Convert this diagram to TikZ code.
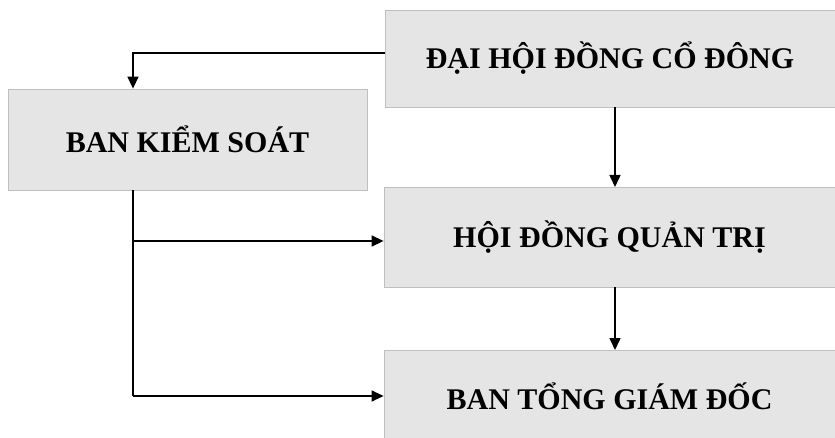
\documentclass[tikz,border=0pt]{standalone}
\usepackage{fontspec}
\setmainfont{Liberation Serif}
\usetikzlibrary{arrows.meta}
\begin{document}
\begin{tikzpicture}[x=1pt,y=-1pt,
  box/.style={draw=black!25,fill=black!10,line width=0.8pt,inner sep=0pt,
    font=\fontsize{30}{33}\selectfont\bfseries},
  conn/.style={line width=1.5pt,-{Triangle[length=12pt,width=11pt]}},
  line/.style={line width=1.5pt}]
\useasboundingbox (0,0) rectangle (835,438);
\node[box,minimum width=450,minimum height=97] (dh) at (610,58.5) {ĐẠI HỘI ĐỒNG CỔ ĐÔNG};
\node[box,minimum width=359,minimum height=101] (bks) at (187.5,139.5) {BAN KIỂM SOÁT};
\node[box,minimum width=451,minimum height=100] (hd) at (609.5,237.5) {HỘI ĐỒNG QUẢN TRỊ};
\node[box,minimum width=451,minimum height=92] (bt) at (609.5,396) {BAN TỔNG GIÁM ĐỐC};
\coordinate (c1) at (133,53);
\coordinate (c2) at (133,396);
\draw[conn] (dh.west|-c1) -- (c1) -- (c1|-bks.north);
\draw[conn] (615,107) -- (615,187);
\draw[conn] (615,287) -- (615,350);
\draw[line] (c1|-bks.south) -- (c2);
\draw[conn] (133,241) -- (hd.west|-0,241);
\draw[conn] (c2) -- (bt.west|-c2);
\end{tikzpicture}
\end{document}
